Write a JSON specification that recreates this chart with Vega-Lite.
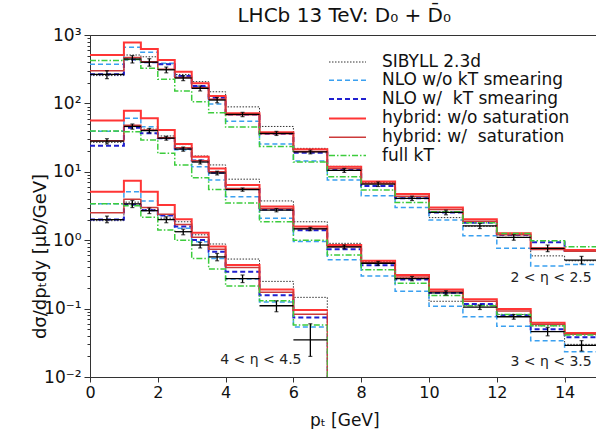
{
  "$schema": "https://vega.github.io/schema/vega-lite/v6.json",
  "width": 508.5,
  "height": 342,
  "autosize": {"type": "none"},
  "padding": {"left": 90, "top": 35, "right": 0, "bottom": 52},
  "config": {
    "font": "DejaVu Sans",
    "view": {"stroke": "#333", "strokeWidth": 1}
  },
  "title": {"text": "LHCb 13 TeV: D₀ + D̄₀", "fontSize": 20, "fontWeight": "normal", "color": "#111", "offset": 0, "frame": "group"},
  "datasets": {
    "bins": [
      {"g":"a","lo":0,"hi":1,"c":0.5,"sib":255,"nlo":373,"nlok":266,"hyb":510,"hybs":300,"fkt":425,"d":265,"dlo":230,"dhi":300},
      {"g":"a","lo":1,"hi":1.5,"c":1.25,"sib":510,"nlo":660,"nlok":440,"hyb":780,"hybs":470,"fkt":440,"d":445,"dlo":390,"dhi":500},
      {"g":"a","lo":1.5,"hi":2,"c":1.75,"sib":480,"nlo":560,"nlok":400,"hyb":625,"hybs":405,"fkt":326,"d":400,"dlo":350,"dhi":450},
      {"g":"a","lo":2,"hi":2.5,"c":2.25,"sib":380,"nlo":386,"nlok":373,"hyb":430,"hybs":315,"fkt":225,"d":310,"dlo":280,"dhi":340},
      {"g":"a","lo":2.5,"hi":3,"c":2.75,"sib":265,"nlo":250,"nlok":251,"hyb":291,"hybs":240,"fkt":152,"d":235,"dlo":215,"dhi":255},
      {"g":"a","lo":3,"hi":3.5,"c":3.25,"sib":208,"nlo":175,"nlok":180,"hyb":197,"hybs":170,"fkt":106,"d":166,"dlo":152,"dhi":180},
      {"g":"a","lo":3.5,"hi":4,"c":3.75,"sib":148,"nlo":98,"nlok":121,"hyb":128,"hybs":115,"fkt":73,"d":112,"dlo":102,"dhi":122},
      {"g":"a","lo":4,"hi":5,"c":4.5,"sib":89,"nlo":55,"nlok":69,"hyb":72,"hybs":68,"fkt":45,"d":69,"dlo":64,"dhi":74},
      {"g":"a","lo":5,"hi":6,"c":5.5,"sib":46,"nlo":25.5,"nlok":36,"hyb":38,"hybs":36,"fkt":23.4,"d":36.5,"dlo":34,"dhi":39},
      {"g":"a","lo":6,"hi":7,"c":6.5,"sib":22,"nlo":14.4,"nlok":19,"hyb":21.3,"hybs":19.8,"fkt":13.9,"d":19.5,"dlo":18.3,"dhi":20.7},
      {"g":"a","lo":7,"hi":8,"c":7.5,"sib":12,"nlo":7.6,"nlok":10.6,"hyb":11.9,"hybs":11.2,"fkt":8.5,"d":10.5,"dlo":9.8,"dhi":11.2},
      {"g":"a","lo":8,"hi":9,"c":8.5,"sib":7.0,"nlo":4.47,"nlok":6.2,"hyb":7.2,"hybs":6.8,"fkt":5.4,"d":6.6,"dlo":6.1,"dhi":7.1},
      {"g":"a","lo":9,"hi":10,"c":9.5,"sib":4.3,"nlo":3.0,"nlok":4.1,"hyb":4.73,"hybs":4.4,"fkt":3.55,"d":4.1,"dlo":3.8,"dhi":4.4},
      {"g":"a","lo":10,"hi":11,"c":10.5,"sib":2.14,"nlo":1.97,"nlok":2.55,"hyb":3.0,"hybs":2.8,"fkt":2.6,"d":2.55,"dlo":2.35,"dhi":2.75},
      {"g":"a","lo":11,"hi":12,"c":11.5,"sib":1.6,"nlo":1.16,"nlok":1.8,"hyb":2.02,"hybs":1.9,"fkt":1.8,"d":1.62,"dlo":1.48,"dhi":1.76},
      {"g":"a","lo":12,"hi":13,"c":12.5,"sib":1.10,"nlo":0.76,"nlok":1.19,"hyb":1.26,"hybs":1.2,"fkt":1.25,"d":1.10,"dlo":1.0,"dhi":1.2},
      {"g":"a","lo":13,"hi":14,"c":13.5,"sib":0.59,"nlo":0.42,"nlok":0.93,"hyb":0.76,"hybs":0.73,"fkt":0.98,"d":0.76,"dlo":0.68,"dhi":0.85},
      {"g":"a","lo":14,"hi":15,"c":14.5,"sib":0.5,"nlo":0.44,"nlok":0.7,"hyb":0.72,"hybs":0.69,"fkt":0.80,"d":0.51,"dlo":0.45,"dhi":0.58},
      {"g":"b","lo":0,"hi":1,"c":0.5,"sib":27,"nlo":39,"nlok":24,"hyb":56,"hybs":28.5,"fkt":39.5,"d":28,"dlo":25.5,"dhi":30.5},
      {"g":"b","lo":1,"hi":1.5,"c":1.25,"sib":46,"nlo":60.5,"nlok":44,"hyb":78,"hybs":48,"fkt":38.6,"d":46,"dlo":42,"dhi":50},
      {"g":"b","lo":1.5,"hi":2,"c":1.75,"sib":42,"nlo":45.7,"nlok":36.5,"hyb":60.5,"hybs":41,"fkt":29.2,"d":40,"dlo":37,"dhi":43},
      {"g":"b","lo":2,"hi":2.5,"c":2.25,"sib":33.4,"nlo":31,"nlok":31,"hyb":40.8,"hybs":31.5,"fkt":18.6,"d":31,"dlo":29,"dhi":33},
      {"g":"b","lo":2.5,"hi":3,"c":2.75,"sib":25,"nlo":21,"nlok":22,"hyb":25.5,"hybs":22.5,"fkt":12.6,"d":21.5,"dlo":20,"dhi":23},
      {"g":"b","lo":3,"hi":3.5,"c":3.25,"sib":17,"nlo":11.9,"nlok":14.6,"hyb":16.6,"hybs":14.5,"fkt":8.2,"d":13.9,"dlo":13,"dhi":14.8},
      {"g":"b","lo":3.5,"hi":4,"c":3.75,"sib":12.6,"nlo":7.6,"nlok":9.7,"hyb":11.2,"hybs":10,"fkt":5.5,"d":9.6,"dlo":9,"dhi":10.2},
      {"g":"b","lo":4,"hi":5,"c":4.5,"sib":7.8,"nlo":4.3,"nlok":5.6,"hyb":6.4,"hybs":5.7,"fkt":3.5,"d":5.5,"dlo":5.2,"dhi":5.8},
      {"g":"b","lo":5,"hi":6,"c":5.5,"sib":3.75,"nlo":2.09,"nlok":2.8,"hyb":3.1,"hybs":2.9,"fkt":1.86,"d":2.75,"dlo":2.6,"dhi":2.9},
      {"g":"b","lo":6,"hi":7,"c":6.5,"sib":1.86,"nlo":0.96,"nlok":1.4,"hyb":1.58,"hybs":1.48,"fkt":1.0,"d":1.46,"dlo":1.38,"dhi":1.54},
      {"g":"b","lo":7,"hi":8,"c":7.5,"sib":0.9,"nlo":0.52,"nlok":0.74,"hyb":0.85,"hybs":0.80,"fkt":0.61,"d":0.80,"dlo":0.75,"dhi":0.85},
      {"g":"b","lo":8,"hi":9,"c":8.5,"sib":0.49,"nlo":0.30,"nlok":0.43,"hyb":0.50,"hybs":0.47,"fkt":0.37,"d":0.46,"dlo":0.43,"dhi":0.49},
      {"g":"b","lo":9,"hi":10,"c":9.5,"sib":0.28,"nlo":0.18,"nlok":0.266,"hyb":0.31,"hybs":0.29,"fkt":0.234,"d":0.275,"dlo":0.255,"dhi":0.295},
      {"g":"b","lo":10,"hi":11,"c":10.5,"sib":0.128,"nlo":0.108,"nlok":0.17,"hyb":0.191,"hybs":0.18,"fkt":0.155,"d":0.17,"dlo":0.158,"dhi":0.182},
      {"g":"b","lo":11,"hi":12,"c":11.5,"sib":0.112,"nlo":0.076,"nlok":0.117,"hyb":0.137,"hybs":0.128,"fkt":0.11,"d":0.105,"dlo":0.097,"dhi":0.113},
      {"g":"b","lo":12,"hi":13,"c":12.5,"sib":0.082,"nlo":0.055,"nlok":0.080,"hyb":0.099,"hybs":0.092,"fkt":0.082,"d":0.076,"dlo":0.07,"dhi":0.082},
      {"g":"b","lo":13,"hi":14,"c":13.5,"sib":0.056,"nlo":0.034,"nlok":0.05,"hyb":0.062,"hybs":0.059,"fkt":0.056,"d":0.046,"dlo":0.040,"dhi":0.053},
      {"g":"b","lo":14,"hi":15,"c":14.5,"sib":0.03,"nlo":0.0234,"nlok":0.038,"hyb":0.044,"hybs":0.042,"fkt":0.041,"d":0.029,"dlo":0.024,"dhi":0.034},
      {"g":"c","lo":0,"hi":1,"c":0.5,"sib":1.93,"nlo":3.4,"nlok":2.0,"hyb":5.1,"hybs":2.52,"fkt":3.4,"d":2.0,"dlo":1.8,"dhi":2.25},
      {"g":"c","lo":1,"hi":1.5,"c":1.25,"sib":3.6,"nlo":5.1,"nlok":3.3,"hyb":7.4,"hybs":3.96,"fkt":3.2,"d":3.4,"dlo":3.0,"dhi":3.8},
      {"g":"c","lo":1.5,"hi":2,"c":1.75,"sib":2.8,"nlo":3.74,"nlok":2.75,"hyb":5.1,"hybs":3.0,"fkt":2.16,"d":2.7,"dlo":2.45,"dhi":2.95},
      {"g":"c","lo":2,"hi":2.5,"c":2.25,"sib":2.1,"nlo":2.34,"nlok":2.3,"hyb":3.27,"hybs":2.4,"fkt":1.41,"d":2.0,"dlo":1.8,"dhi":2.2},
      {"g":"c","lo":2.5,"hi":3,"c":2.75,"sib":1.86,"nlo":1.5,"nlok":1.58,"hyb":2.02,"hybs":1.7,"fkt":1.0,"d":1.33,"dlo":1.2,"dhi":1.45},
      {"g":"c","lo":3,"hi":3.5,"c":3.25,"sib":1.2,"nlo":0.95,"nlok":1.01,"hyb":1.29,"hybs":1.1,"fkt":0.54,"d":0.85,"dlo":0.77,"dhi":0.93},
      {"g":"c","lo":3.5,"hi":4,"c":3.75,"sib":0.88,"nlo":0.54,"nlok":0.68,"hyb":0.81,"hybs":0.74,"fkt":0.38,"d":0.57,"dlo":0.5,"dhi":0.64},
      {"g":"c","lo":4,"hi":5,"c":4.5,"sib":0.53,"nlo":0.27,"nlok":0.347,"hyb":0.434,"hybs":0.40,"fkt":0.214,"d":0.275,"dlo":0.24,"dhi":0.31},
      {"g":"c","lo":5,"hi":6,"c":5.5,"sib":0.25,"nlo":0.125,"nlok":0.157,"hyb":0.19,"hybs":0.173,"fkt":0.13,"d":0.11,"dlo":0.09,"dhi":0.13},
      {"g":"c","lo":6,"hi":7,"c":6.5,"sib":0.146,"nlo":0.054,"nlok":0.074,"hyb":0.095,"hybs":0.083,"fkt":0.0575,"d":0.035,"dlo":0.02,"dhi":0.06}
    ],
    "labels": [
      {"t": "2 < η < 2.5", "x": 13.6, "y": 0.28},
      {"t": "3 < η < 3.5", "x": 13.6, "y": 0.0166},
      {"t": "4 < η < 4.5", "x": 5.04, "y": 0.0178}
    ]
  },
  "layer": [
    {
      "data": {"name": "bins"},
      "transform": [
        {"fold": ["sib", "nlo", "nlok", "hyb", "hybs", "fkt"], "as": ["model", "v"]},
        {"fold": ["lo", "hi"], "as": ["edge", "x"]}
      ],
      "mark": {"type": "line", "clip": true},
      "encoding": {
        "x": {
          "field": "x", "type": "quantitative",
          "scale": {"domain": [0, 15], "nice": false, "zero": false},
          "axis": {
            "title": "pₜ [GeV]", "values": [0, 2, 4, 6, 8, 10, 12, 14],
            "grid": false, "labelFontSize": 16, "titleFontSize": 17, "titleFontWeight": "normal",
            "tickSize": 5, "tickColor": "#333", "domainColor": "#333", "labelColor": "#111", "titleColor": "#111",
            "labelPadding": 2, "titlePadding": 12, "labelFlush": false
          }
        },
        "y": {
          "field": "v", "type": "quantitative",
          "scale": {"type": "log", "domain": [0.01, 1000], "nice": false},
          "axis": {
            "title": "dσ/dpₜdy [μb/GeV]",
            "values": [0.01,0.02,0.03,0.04,0.05,0.06,0.07,0.08,0.09,0.1,0.2,0.3,0.4,0.5,0.6,0.7,0.8,0.9,1,2,3,4,5,6,7,8,9,10,20,30,40,50,60,70,80,90,100,200,300,400,500,600,700,800,900,1000],
            "labelExpr": "abs(log(datum.value)/LN10 - round(log(datum.value)/LN10)) < 0.001 ? (round(log(datum.value)/LN10) == 3 ? '10³' : round(log(datum.value)/LN10) == 2 ? '10²' : round(log(datum.value)/LN10) == 1 ? '10¹' : round(log(datum.value)/LN10) == 0 ? '10⁰' : round(log(datum.value)/LN10) == -1 ? '10⁻¹' : '10⁻²') : ''",
            "tickSize": {"condition": {"test": "abs(log(datum.value)/LN10 - round(log(datum.value)/LN10)) < 0.001", "value": 6}, "value": 3},
            "grid": false, "labelFontSize": 17, "titleFontSize": 18, "titleFontWeight": "normal",
            "tickColor": "#333", "domainColor": "#333", "labelColor": "#111", "titleColor": "#111",
            "labelPadding": 3, "labelFlush": false, "labelOverlap": false,
            "titleX": -50, "titleY": 221, "titleBaseline": "middle", "titleAlign": "center"
          }
        },
        "detail": {"field": "g"},
        "color": {
          "field": "model", "type": "nominal",
          "scale": {"domain": ["sib", "nlo", "nlok", "hyb", "hybs", "fkt"], "range": ["#333333", "#3aa0f0", "#2020d0", "#ff3535", "#cc3a3a", "#3ccc3c"]},
          "legend": {
            "orient": "none", "legendX": 247, "legendY": 17, "title": null,
            "symbolType": "M-2,0H2", "symbolSize": 342, "labelFontSize": 17, "labelOffset": 24,
            "rowPadding": 0.3, "padding": 0, "labelColor": "#111", "labelLimit": 400,
            "labelExpr": "datum.label == 'sib' ? 'SIBYLL 2.3d' : datum.label == 'nlo' ? 'NLO w/o kT smearing' : datum.label == 'nlok' ? 'NLO w/\u00a0 kT smearing' : datum.label == 'hyb' ? 'hybrid: w/o saturation' : datum.label == 'hybs' ? 'hybrid: w/\u00a0 saturation' : 'full kT'"
          }
        },
        "strokeDash": {
          "field": "model", "type": "nominal",
          "scale": {"domain": ["sib", "nlo", "nlok", "hyb", "hybs", "fkt"], "range": [[1.5, 1.5], [5, 3], [5, 3], [1, 0], [1, 0], [6, 2, 1.5, 2]]}
        },
        "strokeWidth": {
          "field": "model", "type": "nominal",
          "scale": {"type": "ordinal", "domain": ["sib", "nlo", "nlok", "hyb", "hybs", "fkt"], "range": [1, 1.5, 2, 2, 1.5, 1.5]}
        },
        "order": [{"field": "x", "type": "quantitative"}, {"field": "edge", "type": "nominal"}]
      }
    },
    {
      "data": {"name": "bins"},
      "transform": [
        {"filter": "datum.g == 'c' && datum.hi == 7"},
        {"fold": ["sib", "nlo", "nlok", "hyb", "hybs", "fkt"], "as": ["model", "v"]}
      ],
      "mark": {"type": "rule", "clip": true, "strokeWidth": 1},
      "encoding": {
        "x": {"field": "hi", "type": "quantitative"},
        "y": {"field": "v", "type": "quantitative"},
        "y2": {"datum": 0.01},
        "color": {"field": "model", "type": "nominal"},
        "strokeDash": {"field": "model", "type": "nominal"}
      }
    },
    {
      "data": {"name": "bins"},
      "mark": {"type": "rule", "color": "#000", "strokeWidth": 1.3},
      "encoding": {
        "x": {"field": "lo", "type": "quantitative"},
        "x2": {"field": "hi"},
        "y": {"field": "d", "type": "quantitative"}
      }
    },
    {
      "data": {"name": "bins"},
      "mark": {"type": "rule", "color": "#000", "strokeWidth": 1.3},
      "encoding": {
        "x": {"field": "c", "type": "quantitative"},
        "y": {"field": "dlo", "type": "quantitative"},
        "y2": {"field": "dhi"}
      }
    },
    {
      "data": {"name": "bins"},
      "mark": {"type": "tick", "orient": "horizontal", "color": "#000", "size": 4, "thickness": 1.2},
      "encoding": {
        "x": {"field": "c", "type": "quantitative"},
        "y": {"field": "dlo", "type": "quantitative"}
      }
    },
    {
      "data": {"name": "bins"},
      "mark": {"type": "tick", "orient": "horizontal", "color": "#000", "size": 4, "thickness": 1.2},
      "encoding": {
        "x": {"field": "c", "type": "quantitative"},
        "y": {"field": "dhi", "type": "quantitative"}
      }
    },
    {
      "data": {"name": "labels"},
      "mark": {"type": "text", "fontSize": 14, "align": "center", "baseline": "middle", "color": "#222"},
      "encoding": {
        "x": {"field": "x", "type": "quantitative"},
        "y": {"field": "y", "type": "quantitative"},
        "text": {"field": "t"}
      }
    }
  ]
}
